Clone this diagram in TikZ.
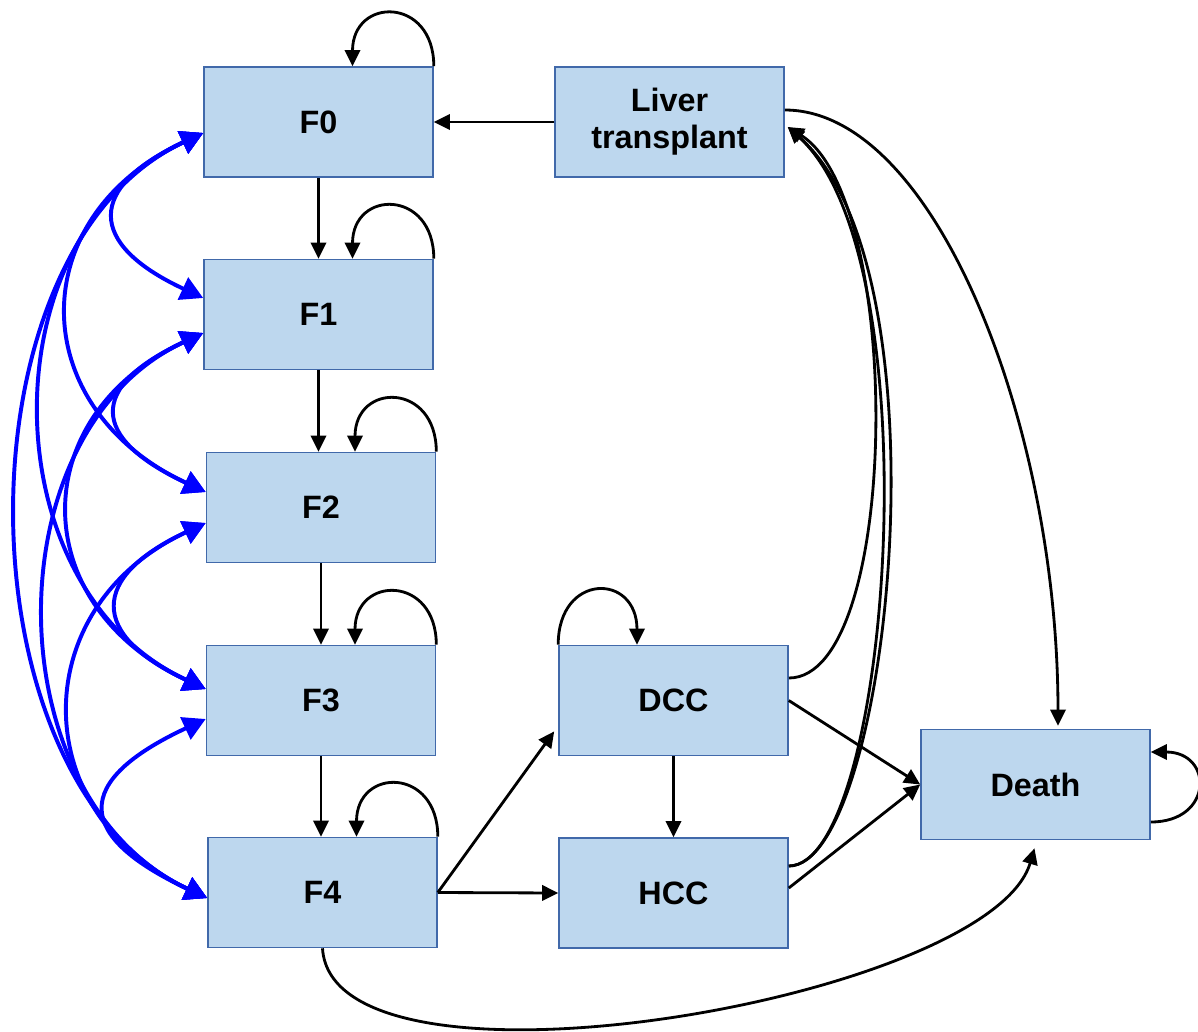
\documentclass[tikz,border=0pt]{standalone}
\usepackage{fontspec}
\setmainfont{Liberation Sans}
\usetikzlibrary{arrows.meta,calc}
\definecolor{boxfill}{RGB}{189,215,238}
\definecolor{boxline}{RGB}{65,105,170}
\definecolor{linkblue}{RGB}{0,0,255}

\begin{document}
\begin{tikzpicture}[x=0.025cm, y=0.025cm,
        >={Triangle[length=0.4cm,width=0.38cm]},
        stagebox/.style={draw=boxline, fill=boxfill, line width=1.1pt,
            minimum width=5.725cm, minimum height=2.75cm, inner sep=0pt,
            align=center, font=\fontsize{23}{26.5}\selectfont\bfseries},
        flow/.style={->, black, line width=2pt},
        back/.style={{Triangle[length=0.56cm,width=0.6cm]}-{Triangle[length=0.56cm,width=0.6cm]},
            linkblue, line width=2.8pt}]
        \def\loopL{2.2}
        \useasboundingbox (0,0) rectangle (1198,-1032);

        % -- fibrosis stages, left column --
        \node[stagebox] (F0) at (318.5,-122) {F0};
        \node[stagebox] (F1) at (318.5,-314.5) {F1};
        \node[stagebox] (F2) at (321,-507.5) {F2};
        \node[stagebox] (F3) at (321,-700.5) {F3};
        \node[stagebox] (F4) at (322.5,-892.5) {F4};

        % -- end-stage states --
        \node[stagebox] (LT) at (669.5,-122) {Liver\\transplant};
        \node[stagebox] (DCC) at (673.5,-700.5) {DCC};
        \node[stagebox] (HCC) at (673.5,-893) {HCC};
        \node[stagebox] (Death) at (1035.5,-784.5) {Death};

        % -- staying in the same state --
        \foreach \n in {F0,F1,F2,F3,F4}
            \draw[flow] (\n.north east) to[out=90,in=90,looseness=\loopL]
                ($(\n.north)+(34,0)$);
        \draw[flow] (DCC.north west) to[out=90,in=90,looseness=2.35]
            ($(DCC.north)+(-36.5,0)$);
        \draw[flow] ($(Death.east)+(0,-37.5)$) to[out=0,in=0,looseness=2.3]
            ($(Death.east)+(0,32.5)$);

        % -- progression F0 -> F4 --
        \foreach \a/\b in {F0/F1,F1/F2,F2/F3,F3/F4}
            \draw[flow] (\a.south) -- (\a.south |- \b.north);

        % -- blue links between the stages, both ways --
        \coordinate (b0)  at ($(F0.west)+(0,-11)$);
        \coordinate (b1u) at ($(F1.west)+(0,16.5)$);
        \coordinate (b1d) at ($(F1.west)+(0,-18.5)$);
        \coordinate (b2u) at ($(F2.west)+(0,15.5)$);
        \coordinate (b2d) at ($(F2.west)+(0,-15.5)$);
        \coordinate (b3u) at ($(F3.west)+(0,11.5)$);
        \coordinate (b3d) at ($(F3.west)+(0,-18.5)$);
        \coordinate (b4)  at ($(F4.west)+(0,-5.5)$);
        \foreach \s/\e/\l in {b0/b1u/2.0, b0/b2u/1.42, b0/b3u/1.1, b0/b4/0.92,
                b1d/b2u/2.05, b1d/b3u/1.42, b1d/b4/1.06,
                b2d/b3u/1.98, b2d/b4/1.36, b3d/b4/2.1}
            \draw[back] (\s) to[out=205,in=155,looseness=\l] (\e);

        % -- F4 onwards --
        \draw[flow] (F4.east) -- ($(DCC.195)+(-4,0)$);
        \draw[flow] (F4.east) -- (HCC.west);
        \draw[flow] (DCC.south) -- (HCC.north);
        \draw[flow] (DCC.east) -- (Death.west);
        \draw[flow] ($(HCC.east)+(0,5)$) -- (Death.west);
        \draw[flow] (LT.west) -- (F0.east);

        % -- transplant links, curved on the right --
        \coordinate (ltin)   at ($(LT.east)+(3,-5)$);
        \coordinate (ltout)  at ($(LT.east)+(0,12)$);
        \coordinate (dccout) at ($(DCC.east)+(0,22.5)$);
        \coordinate (hccout) at ($(HCC.east)+(0,27)$);
        \coordinate (dtop)   at ($(Death.north)+(22.5,3)$);
        \coordinate (dbot)   at ($(Death.south)+(-1,-8)$);
        \draw[flow] (dccout) .. controls +(112,0) and +(117,-73) .. (ltin);
        \draw[flow] (hccout) .. controls +(102,0) and +(147,-133) .. (ltin);
        \draw[flow] (hccout) .. controls +(100,0) and +(165,-145) .. (ltin);
        \draw[flow] (ltout) .. controls +(150,0) and +(0,300) .. (dtop);
        \draw[flow] (F4.south) .. controls +(10,-164) and +(-45,-152) .. (dbot);

    \end{tikzpicture}
\end{document}
